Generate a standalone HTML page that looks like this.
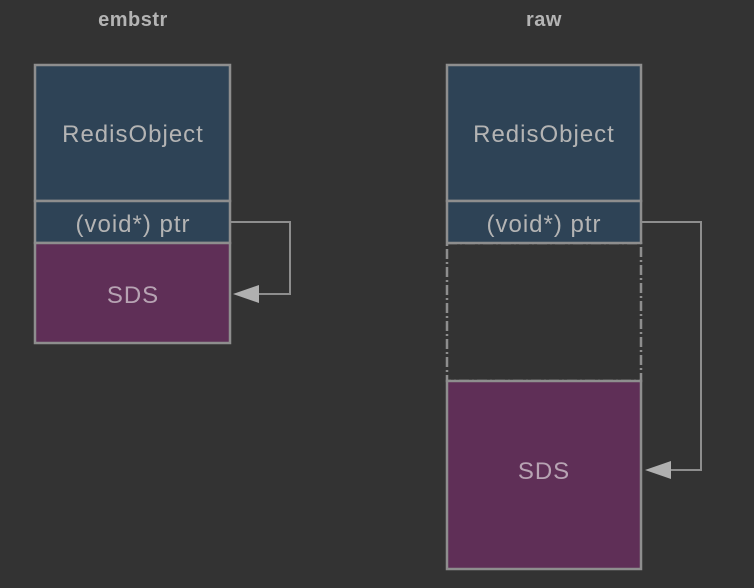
<!DOCTYPE html>
<html><head><style>body{margin:0;background:#333}</style></head><body>
<svg width="754" height="588" xmlns="http://www.w3.org/2000/svg" style="display:block">
<rect width="754" height="588" fill="#333333"/>
<g font-family="Liberation Sans, sans-serif" fill="#b4b4b4" text-anchor="middle" font-weight="bold">
<text x="133" y="26" font-size="20" letter-spacing="0.5">embstr</text>
<text x="544" y="26" font-size="20" letter-spacing="0.5">raw</text>
</g>
<g stroke="#8e8e8e" stroke-width="2.5">
<rect x="447" y="243" width="194" height="138" fill="none" stroke-dasharray="10,3,2,3"/>
<rect x="35" y="65" width="195" height="136" fill="#2e4356"/>
<rect x="35" y="201" width="195" height="42" fill="#2e4356"/>
<rect x="35" y="243" width="195" height="100" fill="#5f2f57"/>
<rect x="447" y="65" width="194" height="136" fill="#2e4356"/>
<rect x="447" y="201" width="194" height="42" fill="#2e4356"/>
<rect x="447" y="381" width="194" height="188" fill="#5f2f57"/>
<polyline points="230,222 290,222 290,294 258,294" fill="none" stroke-width="2"/>
<polyline points="641,222 701,222 701,470 668,470" fill="none" stroke-width="2"/>
</g>
<polygon points="233,294 259,285 259,303" fill="#b0b0b0"/>
<polygon points="645,470 671,461 671,479" fill="#b0b0b0"/>
<g font-family="Liberation Sans, sans-serif" fill="#b4b4b4" text-anchor="middle" font-size="24" letter-spacing="1">
<text x="133" y="142">RedisObject</text>
<text x="133" y="232">(void*) ptr</text>
<text x="133" y="303" fill="#b7a3b3">SDS</text>
<text x="544" y="142">RedisObject</text>
<text x="544" y="232">(void*) ptr</text>
<text x="544" y="479" fill="#b7a3b3">SDS</text>
</g>
</svg>
</body></html>
